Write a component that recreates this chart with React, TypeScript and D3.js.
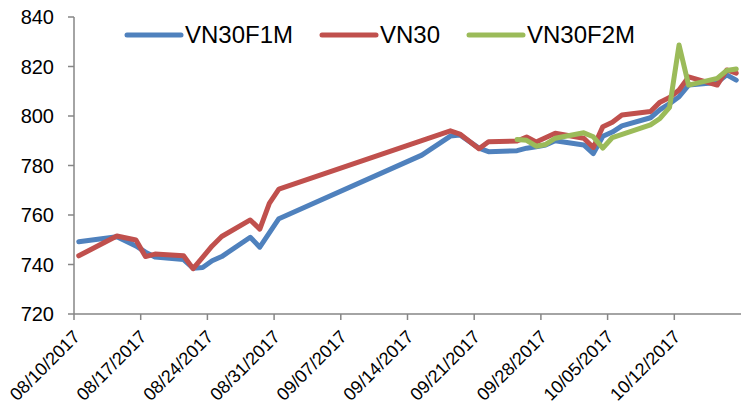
import React from 'react';
import * as d3 from 'd3';

// trading dates per series (MM/DD, 2017)
const f1Dates = ['08/10', '08/14', '08/16', '08/17', '08/18', '08/21', '08/22', '08/23', '08/24', '08/25', '08/28', '08/29', '08/31', '09/15', '09/18', '09/19', '09/21', '09/22', '09/25', '09/26', '09/27', '09/28', '09/29', '10/02', '10/03', '10/04', '10/05', '10/06', '10/09', '10/10', '10/11', '10/12', '10/13', '10/16', '10/17', '10/18'];
const f1Values = [749.2, 751.2, 747.5, 745, 743, 742, 738.5, 738.8, 741.5, 743.2, 751, 747, 758.5, 784.2, 791.9, 792.3, 787, 785.6, 786, 787, 787.6, 788.3, 790, 788.3, 784.8, 791.8, 793.5, 796, 799.3, 802.6, 805, 807.8, 812.5, 813.5, 816.6, 814.5];

const vnDates = ['08/10', '08/14', '08/16', '08/17', '08/18', '08/21', '08/22', '08/24', '08/25', '08/28', '08/29', '08/30', '08/31', '09/18', '09/19', '09/21', '09/22', '09/25', '09/26', '09/27', '09/29', '10/02', '10/03', '10/04', '10/05', '10/06', '10/09', '10/10', '10/11', '10/12', '10/13', '10/16', '10/17', '10/18'];
const vnValues = [743.5, 751.5, 749.9, 743.2, 744.2, 743.5, 738.3, 747.5, 751.3, 758, 754.3, 764.7, 770.5, 794, 792.7, 786.8, 789.6, 789.9, 791.5, 789.5, 793, 791, 787.3, 795.7, 797.5, 800.4, 801.8, 805.6, 807.5, 810.5, 815.8, 812.5, 818.6, 817.3];

const f2Dates = ['09/25', '09/26', '09/27', '09/28', '09/29', '10/02', '10/03', '10/04', '10/05', '10/09', '10/10', '10/11', '10/12', '10/13', '10/16', '10/17', '10/18'];
const f2Values = [790.5, 790.2, 787.8, 788.5, 791, 793.2, 791.6, 787, 791.3, 796.4, 799, 803.5, 828.7, 812.5, 815.2, 818.4, 819];

const tickLabels = ['08/10/2017', '08/17/2017', '08/24/2017', '08/31/2017', '09/07/2017', '09/14/2017', '09/21/2017', '09/28/2017', '10/05/2017', '10/12/2017'];
const yTicks = [720, 740, 760, 780, 800, 820, 840];

const seriesNames = ['VN30F1M', 'VN30', 'VN30F2M'];
const colors = ['#4F81BD', '#C0504D', '#9BBB59'];

const W = 741;
const H = 409;
const plot = { left: 74, right: 741, top: 17, bottom: 314 };

const parse = d3.timeParse('%m/%d/%Y');
const toDate = (md: string) => parse(md + '/2017') as Date;

export default function App() {
  const x = d3
    .scaleTime()
    .domain([toDate('08/10'), toDate('10/19')])
    .range([plot.left, plot.right]);
  const y = d3.scaleLinear().domain([720, 840]).range([plot.bottom, plot.top]);

  // points sit in the middle of their day, like Excel's date axis
  const mid = (md: string) => x(d3.timeHour.offset(toDate(md), 12));

  const series = [
    { dates: f1Dates, values: f1Values },
    { dates: vnDates, values: vnValues },
    { dates: f2Dates, values: f2Values },
  ];

  const line = d3
    .line<[number, number]>()
    .x(d => d[0])
    .y(d => d[1]);

  const font = '"Liberation Sans", Arial, sans-serif';
  const axisColor = '#868686';

  const legendX = [127, 322, 469];

  return (
    <svg
      width={W}
      height={H}
      style={{ position: 'absolute', left: 0, top: 0, background: '#fff' }}
      fontFamily={font}
    >
      {/* y axis */}
      <line x1={plot.left} x2={plot.left} y1={plot.top} y2={plot.bottom} stroke={axisColor} strokeWidth={1.5} />
      {yTicks.map(t => (
        <g key={t}>
          <line x1={plot.left - 6} x2={plot.left} y1={y(t)} y2={y(t)} stroke={axisColor} strokeWidth={1.5} />
          <text x={54} y={y(t)} dy="0.35em" textAnchor="end" fontSize={20} fill="#000">
            {t}
          </text>
        </g>
      ))}

      {/* x axis */}
      <line x1={plot.left} x2={plot.right} y1={plot.bottom} y2={plot.bottom} stroke={axisColor} strokeWidth={1.5} />
      {tickLabels.map(lbl => {
        const tx = x(parse(lbl) as Date);
        return (
          <g key={lbl}>
            <line x1={tx} x2={tx} y1={plot.bottom} y2={plot.bottom + 6} stroke={axisColor} strokeWidth={1.5} />
            <text
              transform={`translate(${tx + 7},${plot.bottom + 24}) rotate(-45)`}
              textAnchor="end"
              fontSize={18}
              fill="#000"
            >
              {lbl}
            </text>
          </g>
        );
      })}

      {/* lines */}
      {series.map((s, i) => (
        <path
          key={seriesNames[i]}
          d={line(s.dates.map((d, j) => [mid(d), y(s.values[j])])) || ''}
          fill="none"
          stroke={colors[i]}
          strokeWidth={5}
          strokeLinejoin="round"
          strokeLinecap="round"
        />
      ))}

      {/* legend */}
      {seriesNames.map((name, i) => (
        <g key={name}>
          <line x1={legendX[i]} x2={legendX[i] + 54} y1={35} y2={35} stroke={colors[i]} strokeWidth={5} strokeLinecap="round" />
          <text x={legendX[i] + 58} y={35} dy="0.35em" fontSize={24} fill="#000">
            {name}
          </text>
        </g>
      ))}
    </svg>
  );
}
